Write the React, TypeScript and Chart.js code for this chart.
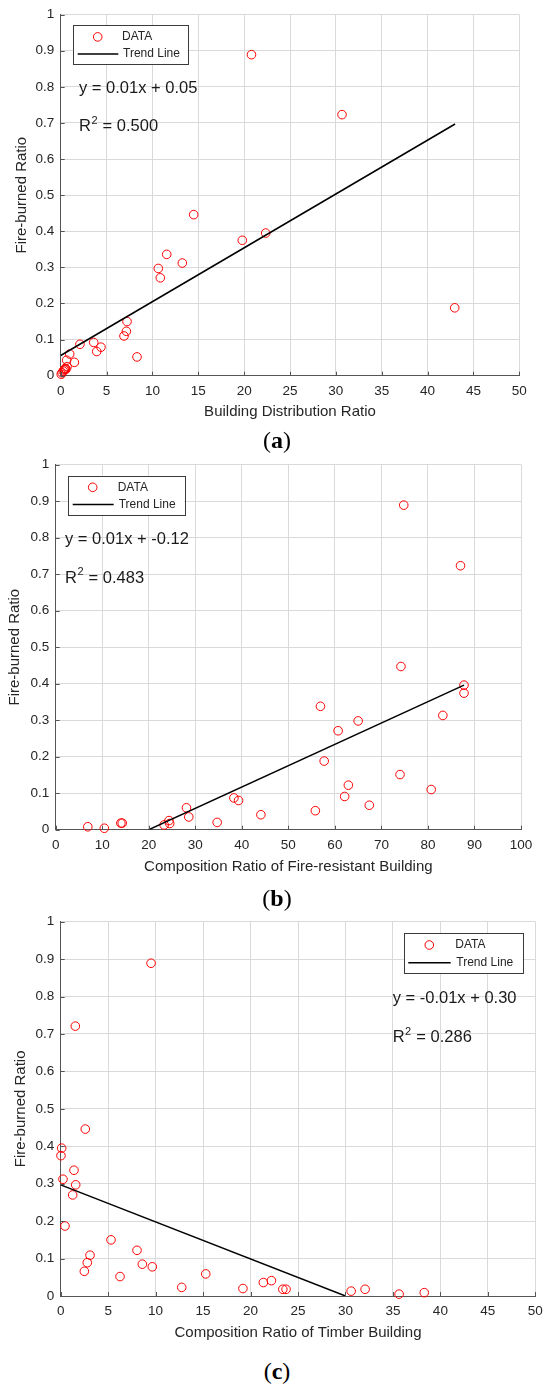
import React, { useEffect, useRef } from "react";
import { Chart, registerables } from "chart.js";

Chart.register(...registerables);

const FONT = '"Liberation Sans", Arial, Helvetica, sans-serif';
const TEXT = "#262626";
const AXIS = "#555555";
const GRID = "#d9d9d9";

// ---------- data (a) Building Distribution Ratio ----------
const distX = [20.8, 30.67, 14.5, 22.35, 19.8, 11.56, 13.26, 10.64, 10.86, 42.96, 7.23, 7.16, 6.9, 3.6, 2.1, 4.39, 3.93, 0.98, 8.32, 0.65, 1.49, 0.69, 0.5, 0.45, 0.58, 0.38, 0.28, 0.15, 0.06];
const distY = [0.889, 0.723, 0.446, 0.395, 0.375, 0.336, 0.312, 0.297, 0.271, 0.188, 0.15, 0.123, 0.11, 0.092, 0.087, 0.079, 0.067, 0.06, 0.052, 0.043, 0.037, 0.025, 0.02, 0.018, 0.018, 0.016, 0.013, 0.008, 0.004];
const distTrendX = [0, 43];
const distTrendY = [0.056, 0.697];
const distEq = "y = 0.01x + 0.05";
const distR2 = "0.500";

// ---------- data (b) Composition Ratio of Fire-resistant Building ----------
const fireX = [74.8, 87.0, 74.2, 87.75, 87.75, 56.9, 83.2, 65.0, 60.7, 57.7, 74.0, 62.9, 80.7, 62.1, 38.3, 39.3, 67.4, 28.1, 55.8, 44.1, 28.6, 24.35, 34.7, 14.0, 14.3, 24.5, 23.3, 6.9, 10.45];
const fireY = [0.889, 0.723, 0.447, 0.396, 0.374, 0.338, 0.313, 0.298, 0.271, 0.188, 0.151, 0.122, 0.11, 0.091, 0.087, 0.08, 0.067, 0.06, 0.052, 0.041, 0.035, 0.025, 0.02, 0.018, 0.018, 0.017, 0.013, 0.008, 0.004];
const fireTrendX = [20, 87.75];
const fireTrendY = [0, 0.396];
const fireEq = "y = 0.01x + -0.12";
const fireR2 = "0.483";

// ---------- data (c) Composition Ratio of Timber Building ----------
const timberX = [9.52, 1.54, 2.59, 0.1, 0.03, 1.4, 0.24, 1.58, 1.26, 0.45, 5.3, 8.04, 3.09, 2.8, 2.49, 8.6, 9.65, 6.25, 12.75, 15.28, 19.2, 21.35, 22.2, 23.4, 23.74, 30.6, 32.07, 35.65, 38.3];
const timberY = [0.889, 0.721, 0.446, 0.395, 0.375, 0.336, 0.312, 0.297, 0.27, 0.187, 0.15, 0.122, 0.109, 0.089, 0.066, 0.085, 0.078, 0.052, 0.023, 0.059, 0.02, 0.036, 0.041, 0.018, 0.018, 0.013, 0.018, 0.005, 0.009];
const timberTrendX = [0, 30];
const timberTrendY = [0.297, 0];
const timberEq = "y = -0.01x + 0.30";
const timberR2 = "0.286";

const yTitle = "Fire-burned Ratio";
const seriesLabels = ["DATA", "Trend Line"];

type Spec = {
  xs: number[]; ys: number[]; tx: number[]; ty: number[];
  eq: string; r2: string; xTitle: string; xMax: number; xStep: number;
  canvasTop: number; H: number;
  area: { left: number; right: number; top: number; bottom: number };
  xTitleY: number; yTitleX: number;
  legend: { anchor: "left" | "right"; dx: number; dy: number; w: number; h: number; markX: number; textX: number; lineX0: number; lineX1: number; row1: number; row2: number };
  eqPos: { anchor: "left"; dx: number; dy1: number; dy2: number };
};

const W = 550;
const TICK_FONT = 13.5;
const TITLE_FONT = 15;

const decorPlugin = {
  id: "decor",
  afterDatasetsDraw(chart: any, _args: any, opts: any) {
    const { ctx, chartArea: a, scales } = chart;
    const spec: Spec = opts.spec;
    ctx.save();
    // inward tick marks (MATLAB style)
    ctx.strokeStyle = AXIS;
    ctx.lineWidth = 1;
    const TL = 4;
    scales.x.ticks.forEach((t: any) => {
      const px = Math.round(scales.x.getPixelForValue(t.value)) + 0.5;
      ctx.beginPath();
      ctx.moveTo(px, a.bottom);
      ctx.lineTo(px, a.bottom - TL);
      ctx.stroke();
    });
    scales.y.ticks.forEach((t: any) => {
      const py = Math.round(scales.y.getPixelForValue(t.value)) + 0.5;
      ctx.beginPath();
      ctx.moveTo(a.left, py);
      ctx.lineTo(a.left + TL, py);
      ctx.stroke();
    });

    // legend box
    const lg = spec.legend;
    const bx = lg.anchor === "right" ? a.right - lg.dx - lg.w : a.left + lg.dx;
    const by = a.top + lg.dy;
    ctx.fillStyle = "#ffffff";
    ctx.fillRect(bx, by, lg.w, lg.h);
    ctx.strokeStyle = "#3a3a3a";
    ctx.lineWidth = 1;
    ctx.strokeRect(Math.round(bx) + 0.5, Math.round(by) + 0.5, Math.round(lg.w), Math.round(lg.h));
    const ds = chart.data.datasets;
    ctx.beginPath();
    ctx.arc(bx + lg.markX, by + lg.row1, 4.3, 0, Math.PI * 2);
    ctx.strokeStyle = ds[0].pointBorderColor;
    ctx.lineWidth = 1;
    ctx.stroke();
    ctx.beginPath();
    ctx.moveTo(bx + lg.lineX0, by + lg.row2);
    ctx.lineTo(bx + lg.lineX1, by + lg.row2);
    ctx.strokeStyle = ds[1].borderColor;
    ctx.lineWidth = 1.5;
    ctx.stroke();
    ctx.fillStyle = TEXT;
    ctx.font = `12px ${FONT}`;
    ctx.textBaseline = "middle";
    ctx.textAlign = "left";
    ctx.fillText(ds[0].label, bx + lg.textX, by + lg.row1);
    ctx.fillText(ds[1].label, bx + lg.textX + 1, by + lg.row2);

    // equation + R^2
    const ex = a.left + spec.eqPos.dx;
    const ey1 = a.top + spec.eqPos.dy1;
    const ey2 = a.top + spec.eqPos.dy2;
    ctx.fillStyle = "#1a1a1a";
    ctx.font = `16.5px ${FONT}`;
    ctx.fillText(spec.eq, ex, ey1);
    ctx.fillText("R", ex, ey2);
    const rw = ctx.measureText("R").width;
    ctx.font = `11px ${FONT}`;
    ctx.fillText("2", ex + rw + 0.5, ey2 - 6);
    const sw = ctx.measureText("2").width;
    ctx.font = `16.5px ${FONT}`;
    ctx.fillText(" = " + spec.r2, ex + rw + sw + 1, ey2);
    ctx.restore();
  },
};

function buildConfig(s: Spec): any {
  const areaTop = s.area.top - s.canvasTop;
  const areaBottom = s.area.bottom - s.canvasTop;
  const xHeight = s.H - areaBottom;
  const titleLH = TITLE_FONT * 1.2;
  const xTitlePadBottom = s.H - titleLH / 2 - (s.xTitleY - s.canvasTop);
  const yTitlePadTop = s.yTitleX - titleLH / 2;
  return {
    type: "scatter",
    data: {
      datasets: [
        {
          label: seriesLabels[0],
          data: s.xs.map((x, i) => ({ x, y: s.ys[i] })),
          pointStyle: "circle",
          pointRadius: 4.3,
          pointHoverRadius: 4.3,
          pointBorderColor: "#ff0000",
          pointBackgroundColor: "rgba(0,0,0,0)",
          pointBorderWidth: 1,
          showLine: false,
          clip: false,
          order: 2,
        },
        {
          label: seriesLabels[1],
          type: "line",
          data: s.tx.map((x, i) => ({ x, y: s.ty[i] })),
          borderColor: "#000000",
          borderWidth: 1.5,
          pointRadius: 0,
          showLine: true,
          fill: false,
          tension: 0,
          order: 1,
        },
      ],
    },
    options: {
      responsive: false,
      maintainAspectRatio: false,
      animation: false,
      events: [],
      layout: { padding: { top: areaTop, right: W - s.area.right, left: 0, bottom: 0 } },
      plugins: {
        legend: { display: false },
        tooltip: { enabled: false },
        title: { display: false },
        decor: { spec: s },
      },
      scales: {
        x: {
          type: "linear",
          min: 0,
          max: s.xMax,
          ticks: {
            stepSize: s.xStep,
            color: TEXT,
            padding: 7,
            maxRotation: 0,
            autoSkip: false,
            font: { family: FONT, size: TICK_FONT },
          },
          grid: { color: GRID, lineWidth: 1, drawTicks: false },
          border: { color: AXIS, width: 1 },
          title: {
            display: true,
            text: s.xTitle,
            color: TEXT,
            font: { family: FONT, size: TITLE_FONT },
            padding: { top: 0, bottom: xTitlePadBottom },
          },
          afterFit(scale: any) {
            scale.height = xHeight;
          },
        },
        y: {
          type: "linear",
          min: 0,
          max: 1,
          ticks: {
            stepSize: 0.1,
            color: TEXT,
            padding: 6.5,
            autoSkip: false,
            font: { family: FONT, size: TICK_FONT },
            callback: (v: number) => String(Number(v.toFixed(1))),
          },
          grid: { color: GRID, lineWidth: 1, drawTicks: false },
          border: { color: AXIS, width: 1 },
          title: {
            display: true,
            text: yTitle,
            color: TEXT,
            font: { family: FONT, size: TITLE_FONT },
            padding: { top: yTitlePadTop, bottom: 0 },
          },
          afterFit(scale: any) {
            scale.width = s.area.left;
          },
        },
      },
    },
    plugins: [decorPlugin],
  };
}

const specs: Spec[] = [
  {
    xs: distX, ys: distY, tx: distTrendX, ty: distTrendY, eq: distEq, r2: distR2,
    xTitle: "Building Distribution Ratio", xMax: 50, xStep: 5,
    canvasTop: 0, H: 425,
    area: { left: 60.7, right: 519.3, top: 13.7, bottom: 375.7 },
    xTitleY: 412, yTitleX: 22,
    legend: { anchor: "left", dx: 12, dy: 10.6, w: 115, h: 39, markX: 25, textX: 49.3, lineX0: 5, lineX1: 45.6, row1: 11.7, row2: 28.7 },
    eqPos: { anchor: "left", dx: 18.3, dy1: 74.3, dy2: 112.3 },
  },
  {
    xs: fireX, ys: fireY, tx: fireTrendX, ty: fireTrendY, eq: fireEq, r2: fireR2,
    xTitle: "Composition Ratio of Fire-resistant Building", xMax: 100, xStep: 10,
    canvasTop: 450, H: 435,
    area: { left: 55.7, right: 521, top: 462.3, bottom: 829.7 },
    xTitleY: 867.3, yTitleX: 15,
    legend: { anchor: "left", dx: 12, dy: 11, w: 116.6, h: 39, markX: 25, textX: 50, lineX0: 5, lineX1: 46, row1: 11.7, row2: 29 },
    eqPos: { anchor: "left", dx: 9.3, dy1: 74.4, dy2: 113.4 },
  },
  {
    xs: timberX, ys: timberY, tx: timberTrendX, ty: timberTrendY, eq: timberEq, r2: timberR2,
    xTitle: "Composition Ratio of Timber Building", xMax: 50, xStep: 5,
    canvasTop: 905, H: 440,
    area: { left: 60.7, right: 535.3, top: 921.7, bottom: 1296 },
    xTitleY: 1333.3, yTitleX: 20.7,
    legend: { anchor: "right", dx: 12.6, dy: 11.6, w: 119, h: 40, markX: 25.6, textX: 51.6, lineX0: 4.6, lineX1: 47, row1: 11.7, row2: 29.4 },
    eqPos: { anchor: "left", dx: 332, dy1: 76.6, dy2: 116 },
  },
];

const captions = ["a", "b", "c"];
const captionY = [439.5, 898, 1371];

function Panel({ spec }: { spec: Spec }) {
  const ref = useRef<HTMLCanvasElement | null>(null);
  useEffect(() => {
    if (!ref.current) return;
    const chart = new Chart(ref.current, buildConfig(spec));
    return () => chart.destroy();
  }, [spec]);
  return (
    <canvas
      ref={ref}
      width={W}
      height={spec.H}
      style={{ position: "absolute", left: 0, top: spec.canvasTop, width: W, height: spec.H }}
    />
  );
}

export default function App() {
  return (
    <div style={{ position: "absolute", left: 0, top: 0, width: W, height: 1387, background: "#ffffff", overflow: "hidden" }}>
      {specs.map((s, i) => (
        <Panel key={i} spec={s} />
      ))}
      {captions.map((c, i) => (
        <div
          key={c}
          style={{
            position: "absolute",
            left: 277,
            top: captionY[i] - 14,
            transform: "translateX(-50%)",
            fontFamily: '"Liberation Serif", "DejaVu Serif", serif',
            fontSize: 24,
            lineHeight: "28px",
            color: "#000",
            whiteSpace: "nowrap",
          }}
        >
          (<b>{c}</b>)
        </div>
      ))}
    </div>
  );
}
